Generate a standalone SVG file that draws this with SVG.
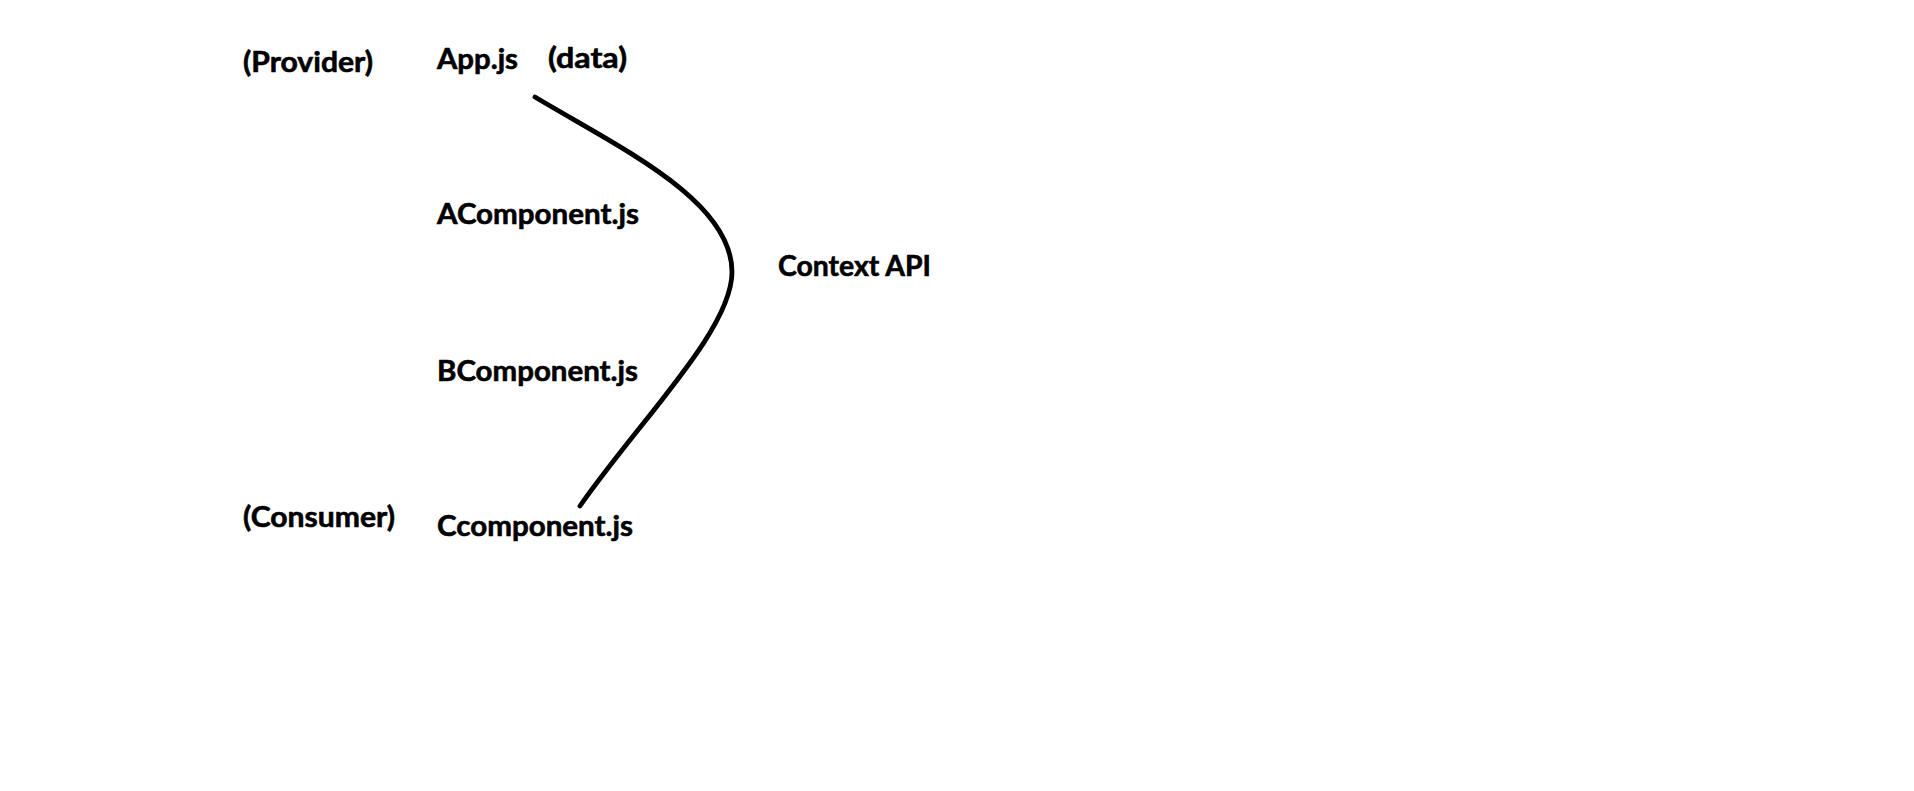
<svg xmlns="http://www.w3.org/2000/svg" width="1914" height="791" viewBox="0 0 1914 791">
<style>
.t{font-family:Lato,"Open Sans","Liberation Sans",sans-serif;font-weight:bold;font-size:29px;fill:#000;stroke:#000;stroke-width:0.6}
.c{fill:none;stroke:#000;stroke-width:4.8;stroke-linecap:round}
</style>
<rect width="1914" height="791" fill="#fff"/>
<g id="provider"><text class="t" x="243" y="72" textLength="130" lengthAdjust="spacingAndGlyphs">(Provider)</text></g>
<g id="app"><text class="t" x="437" y="69" textLength="81" lengthAdjust="spacingAndGlyphs">App.js</text></g>
<g id="data"><text class="t" x="548" y="68" textLength="79" lengthAdjust="spacingAndGlyphs">(data)</text></g>
<g id="acomponent"><text class="t" x="437" y="224" textLength="202" lengthAdjust="spacingAndGlyphs">AComponent.js</text></g>
<g id="contextapi"><text class="t" x="778" y="276" textLength="153" lengthAdjust="spacingAndGlyphs">Context API</text></g>
<g id="bcomponent"><text class="t" x="437" y="381" textLength="201" lengthAdjust="spacingAndGlyphs">BComponent.js</text></g>
<g id="consumer"><text class="t" x="243" y="527" textLength="152" lengthAdjust="spacingAndGlyphs">(Consumer)</text></g>
<g id="ccomponent"><text class="t" x="437" y="536" textLength="196" lengthAdjust="spacingAndGlyphs">Ccomponent.js</text></g>
<g id="connectors">
<path class="c" d="M535,97 C620,148 732,200 732,272 C732,330 640,420 580,506"/>
</g>
</svg>
